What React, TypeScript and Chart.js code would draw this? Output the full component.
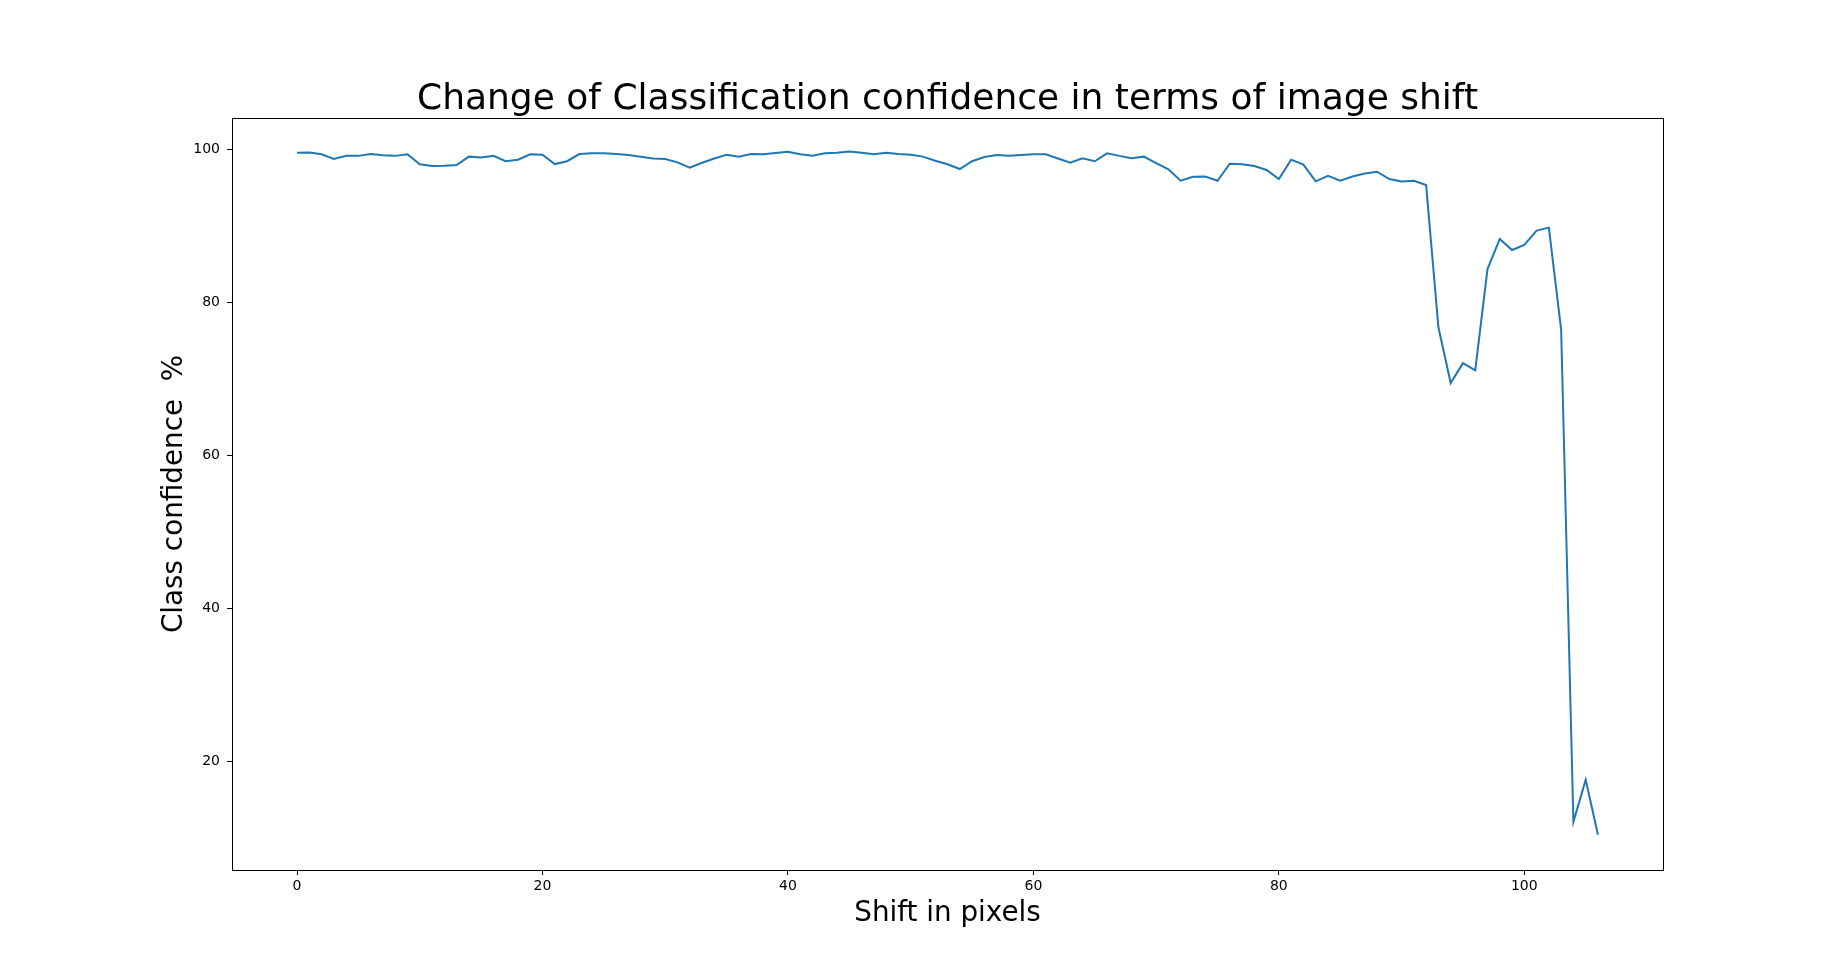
import React, { useEffect, useRef } from "react";
import { Chart, registerables } from "chart.js";

Chart.register(...registerables);

const chartTitle = "Change of Classification confidence in terms of image shift";
const xAxisLabel = "Shift in pixels";
const yAxisLabel = "Class confidence  %";

const shiftPixels = [
  0, 1, 2, 3, 4, 5, 6, 7, 8, 9, 10, 11, 12, 13, 14, 15, 16, 17, 18, 19,
  20, 21, 22, 23, 24, 25, 26, 27, 28, 29, 30, 31, 32, 33, 34, 35, 36, 37, 38, 39,
  40, 41, 42, 43, 44, 45, 46, 47, 48, 49, 50, 51, 52, 53, 54, 55, 56, 57, 58, 59,
  60, 61, 62, 63, 64, 65, 66, 67, 68, 69, 70, 71, 72, 73, 74, 75, 76, 77, 78, 79,
  80, 81, 82, 83, 84, 85, 86, 87, 88, 89, 90, 91, 92, 93, 94, 95, 96, 97, 98, 99,
  100, 101, 102, 103, 104, 105, 106,
];

const confidence = [
  99.6, 99.65, 99.4, 98.8, 99.2, 99.2, 99.45, 99.27, 99.2, 99.4,
  98.1, 97.87, 97.9, 98.0, 99.1, 99.0, 99.2, 98.5, 98.7, 99.4,
  99.35, 98.13, 98.5, 99.44, 99.53, 99.53, 99.44, 99.3, 99.1, 98.87,
  98.8, 98.35, 97.65, 98.3, 98.85, 99.35, 99.1, 99.44, 99.4, 99.57,
  99.74, 99.4, 99.22, 99.53, 99.6, 99.78, 99.6, 99.4, 99.6, 99.44,
  99.35, 99.1, 98.57, 98.1, 97.48, 98.5, 99.06, 99.3, 99.2, 99.3,
  99.4, 99.4, 98.85, 98.3, 98.87, 98.5, 99.53, 99.2, 98.9, 99.1,
  98.25, 97.44, 95.95, 96.48, 96.5, 95.95, 98.17, 98.1, 97.87, 97.35,
  96.17, 98.7, 98.05, 95.87, 96.6, 95.95, 96.5, 96.9, 97.13, 96.17,
  95.85, 95.95, 95.38, 76.8, 69.5, 72.1, 71.15, 84.4, 88.34, 86.9,
  87.56, 89.43, 89.82, 76.5, 12.14, 17.63, 10.45,
];

const xTicks = [0, 20, 40, 60, 80, 100];
const yTicks = [20, 40, 60, 80, 100];

const FONT = "'DejaVu Sans', sans-serif";

const textPlugin = {
  id: "mplText",
  afterDraw(chart: any) {
    const { ctx, chartArea } = chart;
    const { left, right, top, bottom } = chartArea;
    ctx.save();
    // frame (all four spines)
    ctx.strokeStyle = "#000";
    ctx.lineWidth = 1;
    ctx.strokeRect(Math.round(left) + 0.5, Math.round(top) + 0.5, Math.round(right - left), Math.round(bottom - top));
    ctx.fillStyle = "#000";
    // title
    ctx.font = `36px ${FONT}`;
    ctx.textAlign = "center";
    ctx.textBaseline = "alphabetic";
    ctx.fillText(chartTitle, (left + right) / 2, top - 9);
    // x label
    ctx.font = `27.8px ${FONT}`;
    ctx.fillText(xAxisLabel, (left + right) / 2, 921);
    // y label
    ctx.translate(182, (top + bottom) / 2);
    ctx.rotate(-Math.PI / 2);
    ctx.fillText(yAxisLabel, 0, 0);
    ctx.restore();
  },
};

export default function App() {
  const canvasRef = useRef<HTMLCanvasElement | null>(null);

  useEffect(() => {
    const canvas = canvasRef.current;
    if (!canvas) return;
    const points = shiftPixels.map((x, i) => ({ x, y: confidence[i] }));
    const chart = new Chart(canvas, {
      type: "line",
      data: {
        datasets: [
          {
            data: points,
            borderColor: "#1f77b4",
            borderWidth: 2,
            pointRadius: 0,
            tension: 0,
            fill: false,
          },
        ],
      },
      options: {
        animation: false,
        responsive: false,
        maintainAspectRatio: false,
        devicePixelRatio: 1,
        layout: { padding: { left: 0, right: 185, top: 118, bottom: 57 } },
        plugins: {
          legend: { display: false },
          title: { display: false },
          tooltip: { enabled: false },
        },
        scales: {
          x: {
            type: "linear",
            min: -5.3,
            max: 111.3,
            afterBuildTicks: (scale: any) => {
              scale.ticks = xTicks.map((v) => ({ value: v }));
            },
            afterFit: (scale: any) => {
              scale.height = 50;
            },
            border: { display: false },
            grid: {
              display: true,
              drawOnChartArea: false,
              drawTicks: true,
              tickLength: 5,
              color: "#000",
              lineWidth: 1,
            },
            ticks: {
              color: "#000",
              font: { family: FONT, size: 14 },
              padding: 3,
              maxRotation: 0,
              autoSkip: false,
            },
          },
          y: {
            type: "linear",
            min: 5.85,
            max: 104.15,
            afterBuildTicks: (scale: any) => {
              scale.ticks = yTicks.map((v) => ({ value: v }));
            },
            afterFit: (scale: any) => {
              scale.width = 232;
            },
            border: { display: false },
            grid: {
              display: true,
              drawOnChartArea: false,
              drawTicks: true,
              tickLength: 5,
              color: "#000",
              lineWidth: 1,
            },
            ticks: {
              color: "#000",
              font: { family: FONT, size: 14 },
              padding: 7,
              autoSkip: false,
            },
          },
        },
      },
      plugins: [textPlugin],
    } as any);
    return () => chart.destroy();
  }, []);

  return (
    <div style={{ position: "fixed", left: 0, top: 0, width: 1848, height: 977, background: "#fff" }}>
      <canvas ref={canvasRef} width={1848} height={977} style={{ display: "block", width: 1848, height: 977 }} />
    </div>
  );
}
